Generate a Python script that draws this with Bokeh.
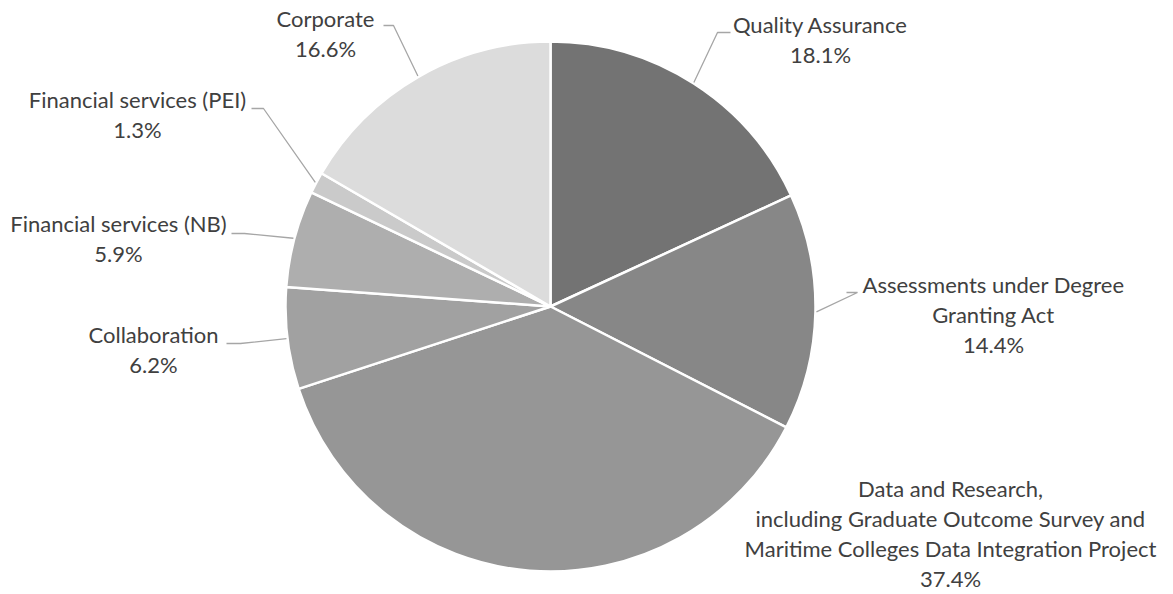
import math
from bokeh.plotting import figure
from bokeh.models import Range1d, ColumnDataSource
from bokeh.core.properties import value
from bokeh.embed import file_html
from bokeh.resources import INLINE

# ---- data (clockwise from 12 o'clock) ----
categories = [
    "Quality Assurance",
    "Assessments under Degree\nGranting Act",
    "Data and Research,\nincluding Graduate Outcome Survey and\nMaritime Colleges Data Integration Project",
    "Collaboration",
    "Financial services (NB)",
    "Financial services (PEI)",
    "Corporate",
]
shares = [18.1, 14.4, 37.4, 6.2, 5.9, 1.3, 16.6]
pct_labels = ["18.1%", "14.4%", "37.4%", "6.2%", "5.9%", "1.3%", "16.6%"]
colors = ["#737373", "#878787", "#969696", "#a1a1a1", "#aeaeae", "#cacaca", "#dcdcdc"]

# ---- layout (reference pixel coordinates, y downward) ----
PW, PH = 1170, 592
CX, CY, R = 550, 306, 265
# label anchor: centre x, centre y of first line
label_pos = [(820, 24), (993, 284), (950, 488), (153, 334), (118, 223), (137, 99), (325, 18)]
# leader knee points (None = no leader); (text-end x, knee x, y)
leaders = [(730, 717, 32), (846, 857, 292), None, (226, 240, 343), (231, 244, 233), (251, 263, 108), (383, 393, 25)]
LINE_H = 30

def fy(y):
    return PH - y

p = figure(width=PW, height=PH, output_backend="svg", toolbar_location=None,
           x_range=Range1d(0, PW), y_range=Range1d(0, PH),
           min_border=0)
p.axis.visible = False
p.grid.visible = False
p.outline_line_color = None
p.background_fill_color = "white"

total = sum(shares)
starts, ends, mids = [], [], []
cum = 0.0
for s in shares:
    a0 = math.pi / 2 - 2 * math.pi * cum / total
    cum += s
    a1 = math.pi / 2 - 2 * math.pi * cum / total
    starts.append(a0)
    ends.append(a1)
    mids.append((a0 + a1) / 2)

src = ColumnDataSource(dict(x=[CX] * len(shares), y=[fy(CY)] * len(shares),
                            start=starts, end=ends, color=colors))
p.wedge(x="x", y="y", radius=R, start_angle="start", end_angle="end",
        direction="clock", fill_color="color", line_color="white", line_width=2.5,
        source=src)

# leader lines
for i, ld in enumerate(leaders):
    if ld is None:
        continue
    tx, kx, ky = ld
    ex = CX + (R + 1) * math.cos(mids[i])
    ey = fy(CY) + (R + 1) * math.sin(mids[i])
    p.line([tx, kx, ex], [fy(ky), fy(ky), ey], line_color="#a6a6a6", line_width=1.3)

# labels
xs, ys, txt = [], [], []
for i, cat in enumerate(categories):
    lines = cat.split("\n") + [pct_labels[i]]
    lx, ly = label_pos[i]
    for j, ln in enumerate(lines):
        xs.append(lx)
        ys.append(fy(ly + j * LINE_H))
        txt.append(ln)
p.text(x=xs, y=ys, text=txt, text_align="center", text_baseline="middle",
       text_font=value("Lato"), text_font_size="22px", text_color="#404040")

open("out.html", "w").write(file_html(p, INLINE))
